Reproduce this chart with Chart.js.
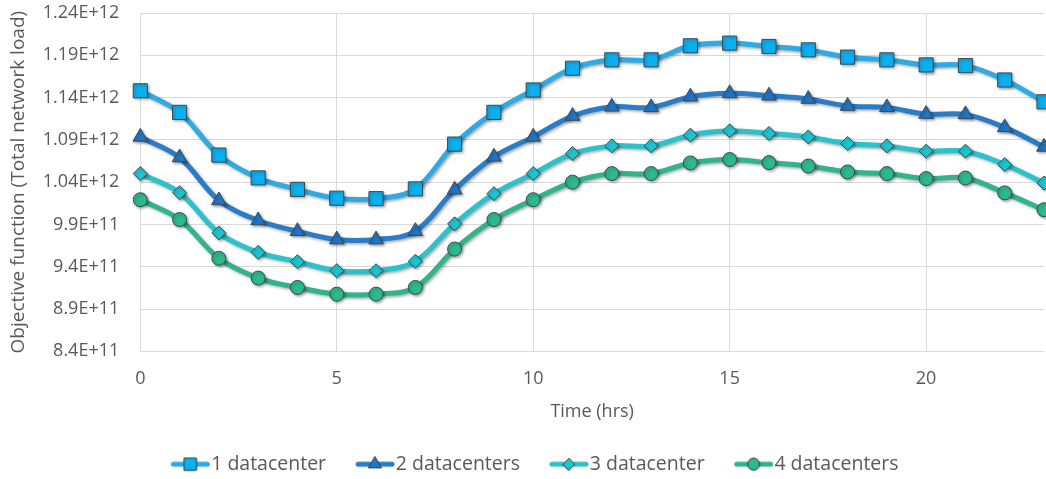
<!DOCTYPE html>
<html>
<head>
<meta charset="utf-8">
<script src="https://cdn.jsdelivr.net/npm/chart.js@4/dist/chart.umd.min.js"></script>
<style>
  html, body { margin:0; padding:0; background:#fff; }
  #wrap { width:1046px; height:479px; }
</style>
</head>
<body>
<div id="wrap"><canvas id="chart" width="1046" height="479"></canvas></div>
<script>
// ================= DATA =================
const hours = [0,1,2,3,4,5,6,7,8,9,10,11,12,13,14,15,16,17,18,19,20,21,22,23];
const seriesNames = ["1 datacenter","2 datacenters","3 datacenter","4 datacenters"];

const dc1 = [1.148e12,1.1225e12,1.072e12,1.045e12,1.0315e12,1.021e12,1.0205e12,1.032e12,1.085e12,1.1225e12,1.149e12,1.1747e12,
             1.1846e12,1.1846e12,1.2012e12,1.2044e12,1.2004e12,1.1964e12,1.1878e12,1.1846e12,1.1786e12,1.1778e12,1.1608e12,1.135e12];
const dc2 = [1.0935e12,1.0691e12,1.0184e12,0.9947e12,0.982e12,0.9721e12,0.9721e12,0.982e12,1.031e12,1.0699e12,1.0935e12,1.1181e12,
             1.1291e12,1.1284e12,1.141e12,1.145e12,1.1422e12,1.1383e12,1.13e12,1.1284e12,1.1205e12,1.1201e12,1.1047e12,1.0816e12];
const dc3 = [1.0501e12,1.0275e12,0.98e12,0.957e12,0.946e12,0.9353e12,0.9353e12,0.9464e12,0.9907e12,1.0264e12,1.0501e12,1.0738e12,
             1.0829e12,1.0829e12,1.0956e12,1.1007e12,1.0976e12,1.0935e12,1.0857e12,1.0829e12,1.0766e12,1.0766e12,1.0608e12,1.0389e12];
const dc4 = [1.0192e12,0.9958e12,0.9499e12,0.9266e12,0.9155e12,0.9076e12,0.9076e12,0.9155e12,0.9609e12,0.9958e12,1.0192e12,1.04e12,
             1.0501e12,1.0501e12,1.0627e12,1.0667e12,1.0631e12,1.0591e12,1.052e12,1.0501e12,1.0442e12,1.0449e12,1.0273e12,1.0073e12];

const yMin = 8.4e11, yMax = 1.24e12, yStep = 5e10;
const xMin = 0, xMax = 23, xStep = 5;

// ================= STYLE =================
const lineColors   = ["#2faae2","#2a7cc6","#2cc2cc","#31b48b"];
const markerColors = ["#0db0ef","#1f77c8","#1cc6d0","#2cb98b"];
const markerStyles = ["rect","triangle","rectRot","circle"];
const markerSizes  = [10,8.5,7,7];
const markerEdge = "#3d4a52";
const textColor = "#595959";
const axisFont = "'Open Sans', sans-serif";

// legend icon: short line + marker, padded on the left so items get spaced apart
const ICON_BOX = 56;
function legendIcon(i){
    const c = document.createElement("canvas");
    c.width = 76; c.height = 20;
    const ctx = c.getContext("2d");
    ctx.strokeStyle = lineColors[i];
    ctx.lineWidth = 5;
    ctx.lineCap = "round";
    ctx.beginPath(); ctx.moveTo(38,10); ctx.lineTo(72,10); ctx.stroke();
    ctx.fillStyle = markerColors[i];
    ctx.strokeStyle = markerEdge;
    ctx.lineWidth = 1;
    Chart.helpers.drawPoint(ctx, {pointStyle: markerStyles[i], radius: markerSizes[i]*0.85, borderWidth:1, rotation:0}, 55, 10);
    ctx.fill(); ctx.stroke();
    return c;
}

const datasets = [dc1,dc2,dc3,dc4].map((vals,i)=>({
    label: seriesNames[i],
    data: hours.map((h,k)=>({x:h, y:vals[k]})),
    borderColor: lineColors[i],
    backgroundColor: markerColors[i],
    borderWidth: 5,
    tension: 0.35,
    pointStyle: markerStyles[i],
    pointRadius: markerSizes[i],
    pointBackgroundColor: markerColors[i],
    pointBorderColor: markerEdge,
    pointBorderWidth: 1,
    clip: 12
}));

// soft drop shadow under lines, like the office chart
const shadowPlugin = {
    id: "shadow",
    beforeDatasetDraw(chart){
        const ctx = chart.ctx;
        ctx.save();
        ctx.shadowColor = "rgba(0,0,0,0.35)";
        ctx.shadowBlur = 3;
        ctx.shadowOffsetX = 1.5;
        ctx.shadowOffsetY = 1.5;
    },
    afterDatasetDraw(chart){
        chart.ctx.restore();
    }
};

function sci(v){
    return Number(v.toPrecision(3)).toExponential().toUpperCase();
}

new Chart(document.getElementById("chart"), {
    type: "line",
    data: { datasets },
    plugins: [shadowPlugin],
    options: {
        responsive: false,
        animation: false,
        layout: { autoPadding: false, padding: { top: 13, right: 2, left: 0, bottom: -5 } },
        plugins: {
            tooltip: { enabled: false },
            legend: {
                position: "bottom",
                labels: {
                    usePointStyle: true,
                    pointStyleWidth: ICON_BOX,
                    boxHeight: 16,
                    padding: 4,
                    color: textColor,
                    font: { family: axisFont, size: 19.5 },
                    generateLabels(chart){
                        return chart.data.datasets.map((d,i)=>({
                            text: d.label,
                            pointStyle: legendIcon(i),
                            fillStyle: markerColors[i],
                            strokeStyle: lineColors[i],
                            lineWidth: 0,
                            fontColor: textColor,
                            datasetIndex: i
                        }));
                    }
                }
            }
        },
        scales: {
            x: {
                type: "linear",
                min: xMin, max: xMax,
                grid: { color: "#d9d9d9", lineWidth: 1, drawTicks: true, tickLength: 17, tickColor: "rgba(0,0,0,0)" },
                border: { display: false },
                ticks: {
                    stepSize: xStep,
                    includeBounds: false,
                    padding: 0,
                    color: textColor,
                    font: { family: axisFont, size: 18 }
                },
                title: {
                    display: true,
                    text: "Time (hrs)",
                    color: textColor,
                    padding: { top: 11, bottom: 28 },
                    font: { family: axisFont, size: 18 }
                }
            },
            y: {
                min: yMin, max: yMax,
                grid: { color: "#d9d9d9", lineWidth: 1, drawTicks: true, tickLength: 21, tickColor: "rgba(0,0,0,0)" },
                border: { display: false },
                ticks: {
                    stepSize: yStep,
                    padding: 0,
                    color: textColor,
                    font: { family: axisFont, size: 18 },
                    callback: v => sci(v)
                },
                title: {
                    display: true,
                    text: "Objective function (Total network load)",
                    color: textColor,
                    padding: { top: 7, bottom: 13 },
                    font: { family: axisFont, size: 19 }
                }
            }
        }
    }
});
</script>
</body>
</html>
